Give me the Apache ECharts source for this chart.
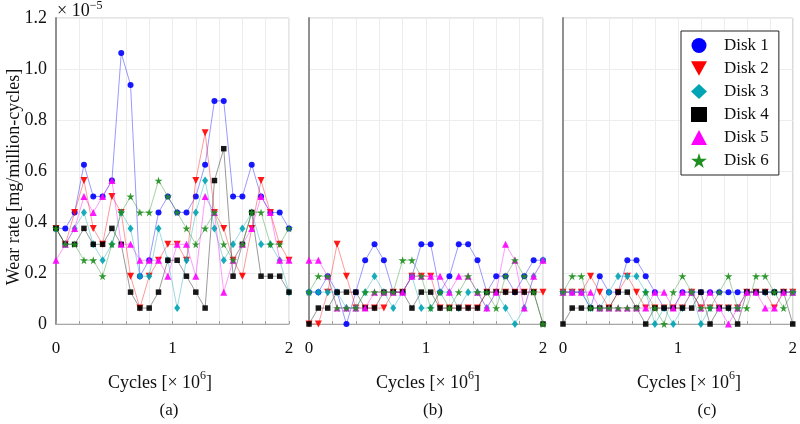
<!DOCTYPE html>
<html><head><meta charset="utf-8">
<script src="https://cdn.jsdelivr.net/npm/echarts@6/dist/echarts.min.js"></script>
<style>html,body{margin:0;padding:0;background:#fff}#c{width:800px;height:424px}</style>
</head><body><div id="c"></div>
<script>
// x values: cycles [x 10^6]
const cycles = [0,0.08,0.16,0.24,0.32,0.4,0.48,0.56,0.64,0.72,0.8,0.88,0.96,1.04,1.12,1.2,1.28,1.36,1.44,1.52,1.6,1.68,1.76,1.84,1.92,2.0];
const diskNames = ['Disk 1','Disk 2','Disk 3','Disk 4','Disk 5','Disk 6'];
const panelLabels = ['(a)','(b)','(c)'];
const xTickLabels = ['0','1','2'];
// wear rate values, in units of 1e-5 mg/million-cycles
// panel (a)
const a_d1 = [0.375,0.375,0.4375,0.625,0.5,0.5,0.5625,1.0625,0.9375,0.1875,0.25,0.4375,0.5,0.4375,0.4375,0.5,0.625,0.875,0.875,0.5,0.5,0.625,0.5,0.4375,0.4375,0.375];
const a_d2 = [0.375,0.3125,0.4375,0.5625,0.375,0.3125,0.5,0.4375,0.1875,0.0625,0.1875,0.25,0.3125,0.3125,0.25,0.5625,0.75,0.4375,0.375,0.25,0.1875,0.375,0.5625,0.4375,0.3125,0.25];
const a_d3 = [0.375,0.3125,0.375,0.4375,0.3125,0.25,0.3125,0.4375,0.375,0.1875,0.1875,0.375,0.25,0.0625,0.25,0.4375,0.5625,0.375,0.25,0.3125,0.375,0.4375,0.3125,0.3125,0.25,0.125];
const a_d4 = [0.375,0.3125,0.3125,0.375,0.3125,0.3125,0.375,0.3125,0.125,0.0625,0.0625,0.125,0.25,0.25,0.1875,0.125,0.0625,0.5625,0.6875,0.1875,0.3125,0.4375,0.1875,0.1875,0.1875,0.125];
const a_d5 = [0.25,0.3125,0.375,0.5,0.4375,0.5,0.5625,0.3125,0.3125,0.25,0.25,0.25,0.1875,0.3125,0.3125,0.1875,0.5,0.4375,0.125,0.25,0.3125,0.375,0.5,0.4375,0.25,0.25];
const a_d6 = [0.375,0.3125,0.3125,0.25,0.25,0.1875,0.3125,0.4375,0.5,0.4375,0.4375,0.5625,0.5,0.4375,0.375,0.3125,0.375,0.4375,0.3125,0.25,0.3125,0.4375,0.4375,0.3125,0.3125,0.375];
// panel (b)
const b_d1 = [0.125,0.125,0.1875,0.125,0,0.125,0.25,0.3125,0.25,0.125,0.125,0.1875,0.3125,0.3125,0.125,0.1875,0.3125,0.3125,0.25,0.125,0.1875,0.1875,0.125,0.1875,0.25,0.25];
const b_d2 = [0,0,0.125,0.3125,0.1875,0.0625,0.0625,0.0625,0.0625,0.125,0.125,0.1875,0.1875,0.1875,0.0625,0.0625,0.0625,0.0625,0.0625,0.125,0.125,0.125,0.125,0.125,0.125,0.125];
const b_d3 = [0.125,0.125,0.125,0.125,0.0625,0.0625,0.125,0.1875,0.125,0.0625,0.125,0.1875,0.0625,0.0625,0.125,0.125,0.0625,0.125,0.125,0.0625,0.125,0.0625,0,0.0625,0.1875,0.25];
const b_d4 = [0,0.0625,0.0625,0.125,0.125,0.125,0.0625,0.0625,0.125,0.125,0.125,0.0625,0.125,0.125,0.0625,0.0625,0.0625,0.0625,0.0625,0.125,0.125,0.125,0.125,0.125,0.125,0];
const b_d5 = [0.25,0.25,0.1875,0.0625,0.0625,0.0625,0.0625,0.125,0.125,0.125,0.125,0.1875,0.1875,0.1875,0.1875,0.125,0.1875,0.1875,0.125,0.0625,0.125,0.3125,0.25,0.0625,0.1875,0.25];
const b_d6 = [0.125,0.1875,0.1875,0.0625,0.0625,0.0625,0.125,0.125,0.125,0.125,0.25,0.25,0.1875,0.0625,0.125,0.0625,0.125,0.1875,0.125,0.125,0.0625,0.1875,0.25,0.1875,0.125,0];
// panel (c)
const c_d1 = [0.125,0.125,0.125,0.0625,0.1875,0.125,0.125,0.25,0.25,0.1875,0.125,0.0625,0.0625,0.125,0.125,0.125,0.125,0.125,0.125,0.125,0.125,0.125,0.125,0.125,0.125,0.125];
const c_d2 = [0.125,0.125,0.125,0.1875,0.125,0.0625,0.125,0.1875,0.125,0.0625,0.0625,0.0625,0.0625,0.0625,0.125,0.0625,0.0625,0.0625,0.0625,0.0625,0.125,0.125,0.125,0.0625,0.125,0.125];
const c_d3 = [0.125,0.125,0.125,0.0625,0.0625,0.125,0.1875,0.1875,0.1875,0.125,0,0.0625,0,0.0625,0.125,0,0.0625,0.0625,0.0625,0.0625,0.125,0.125,0.125,0.125,0.125,0.125];
const c_d4 = [0,0.0625,0.0625,0.0625,0.0625,0.0625,0.125,0.125,0.0625,0,0.0625,0.0625,0.0625,0.0625,0.0625,0.125,0,0.0625,0.0625,0,0.125,0.125,0.125,0.125,0.125,0];
const c_d5 = [0.125,0.125,0.125,0.125,0.0625,0.0625,0.0625,0.0625,0.0625,0.0625,0.125,0.125,0.0625,0.125,0.125,0.0625,0.125,0.0625,0,0.0625,0.125,0.125,0.0625,0.0625,0.125,0.125];
const c_d6 = [0.125,0.1875,0.1875,0.0625,0.0625,0.0625,0.0625,0.0625,0.0625,0.125,0.0625,0,0.125,0.1875,0.125,0.0625,0.0625,0.125,0.1875,0.0625,0.0625,0.1875,0.1875,0.125,0.0625,0.125];

const panels = [[a_d1,a_d2,a_d3,a_d4,a_d5,a_d6],[b_d1,b_d2,b_d3,b_d4,b_d5,b_d6],[c_d1,c_d2,c_d3,c_d4,c_d5,c_d6]];

const colors = ['#0000ff','#ff0000','#00a4b4','#000000','#ff00ff','#1e8f1e'];
const STAR = 'path://M50,0 L61,35 L98,35 L68,57 L79,91 L50,70 L21,91 L32,57 L2,35 L39,35 Z';
const DOWN = 'path://M0,0 L10,0 L5,9 Z';
const symbols = ['circle', DOWN, 'diamond', 'rect', 'triangle', STAR];
const symSizes = [6, 7, [6,8], 5.5, 7, 8];

const FONT = 'Liberation Serif';
const gridLefts = [56, 309, 563];
const gridW = [233, 234, 234];

const grids = gridLefts.map((l,i)=>({left:l, width:gridW[i], top:18, height:306, show:true, borderColor:'#cccccc', borderWidth:1}));
const xAxes = grids.map((g,i)=>({
  type:'value', gridIndex:i, min:0, max:2, interval:0.2,
  axisLine:{show:true, lineStyle:{color:'#a8a8a8', width:1}},
  axisTick:{show:true, inside:true, length:3, lineStyle:{color:'#a0a0a0'}},
  splitLine:{show:true, lineStyle:{color:'#ededed', width:1}},
  axisLabel:{fontFamily:FONT, fontSize:17, color:'#111', margin:16,
    formatter:v=>{const r=Math.round(v); return Math.abs(v-r)<1e-6 ? xTickLabels[r] : '';}}
}));
const yAxes = grids.map((g,i)=>({
  type:'value', gridIndex:i, min:0, max:1.2, interval:0.2,
  axisLine:{show:true, lineStyle:{color:'#909090', width:2}},
  axisTick:{show:false},
  splitLine:{show:true, lineStyle:{color:'#ededed', width:1}},
  axisLabel:{show:i===0, fontFamily:FONT, fontSize:18, color:'#111', margin:9,
    formatter:v=> v===0 ? '0' : v.toFixed(1)}
}));

const series = [];
panels.forEach((p,pi)=>{
  p.forEach((vals,di)=>{
    series.push({
      name: diskNames[di], type:'line', xAxisIndex:pi, yAxisIndex:pi,
      data: cycles.map((x,k)=>[x, vals[k]]),
      symbol: symbols[di], symbolSize: symSizes[di], showSymbol:true,
      lineStyle:{color:colors[di], width:0.8, opacity:0.5},
      itemStyle:{color:colors[di], opacity:0.9},
      z: 2+di, animation:false
    });
  });
});

const option = {
  animation:false,
  textStyle:{fontFamily:FONT},
  grid: grids, xAxis: xAxes, yAxis: yAxes, series,
  legend:{
    left:681, top:31, orient:'vertical',
    backgroundColor:'#fff', borderColor:'#222', borderWidth:1,
    padding:[6,10,6,10], itemGap:6, itemWidth:16, itemHeight:15,
    textStyle:{fontFamily:FONT, fontSize:17, color:'#111', padding:[0,0,0,12]},
    data: diskNames.map((n,i)=>({name:n, icon:symbols[i], itemStyle:{color:colors[i], opacity:1}})),
    selectedMode:false
  },
  graphic:[
    {type:'text', left:57, top:0, style:{text:'{n|× 10}{s|−5}', rich:{
      n:{fontFamily:FONT, fontSize:18, fill:'#111', lineHeight:20, verticalAlign:'bottom'},
      s:{fontFamily:FONT, fontSize:12, fill:'#111', lineHeight:12, verticalAlign:'top'}}}},
    {type:'text', x:14, y:177, rotation:Math.PI/2,
      style:{text:'Wear rate [mg/million-cycles]', fontFamily:FONT, fontSize:18, fill:'#111', align:'center', verticalAlign:'middle'}},
    ...[160,428,689].map(cx=>({type:'text', x:cx, y:381, style:{text:'{n|Cycles [× 10}{s|6}{n|]}', align:'center', verticalAlign:'middle', rich:{
      n:{fontFamily:FONT, fontSize:18, fill:'#111', lineHeight:22, verticalAlign:'bottom'},
      s:{fontFamily:FONT, fontSize:12, fill:'#111', lineHeight:12, verticalAlign:'top'}}}})),
    ...[169,433,707].map((cx,i)=>({type:'text', x:cx, y:411, style:{text:panelLabels[i], fontFamily:FONT, fontSize:17, fill:'#111', align:'center', verticalAlign:'middle'}}))
  ]
};
const chart = echarts.init(document.getElementById('c'), null, {renderer:'canvas'});
chart.setOption(option);
</script></body></html>
